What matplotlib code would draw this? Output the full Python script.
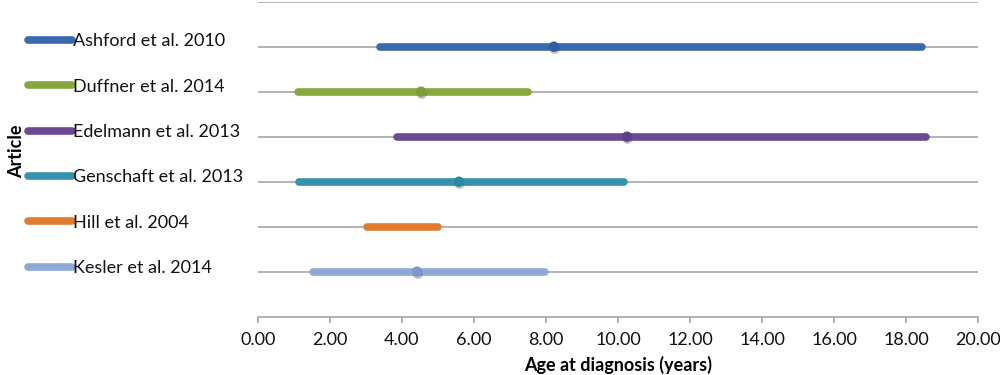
import matplotlib
matplotlib.use("Agg")
import matplotlib.pyplot as plt
import matplotlib.patheffects as pe
from matplotlib.ticker import FormatStrFormatter

plt.rcParams['font.family'] = ['Lato', 'DejaVu Sans']

articles = ["Ashford et al. 2010", "Duffner et al. 2014", "Edelmann et al. 2013",
            "Genschaft et al. 2013", "Hill et al. 2004", "Kesler et al. 2014"]
range_start = [3.39, 1.12, 3.86, 1.14, 3.03, 1.53]
range_end = [18.45, 7.50, 18.56, 10.17, 5.00, 7.97]
median_age = [8.22, 4.53, 10.25, 5.58, None, 4.42]
line_colors = ["#3a6aad", "#86a83e", "#6a4b91", "#3593ad", "#e07c30", "#8fa9d6"]
dot_colors = ["#2f5ea6", "#7aa033", "#5e3f88", "#2a88a6", "#e07c30", "#7d98cc"]
x_ticks = [0, 2, 4, 6, 8, 10, 12, 14, 16, 18, 20]

fig = plt.figure(figsize=(10, 3.75), dpi=100)
ax = fig.add_axes([0.258, 0.1555, 0.72, 0.84])

n = len(articles)
ypos = [n - i for i in range(n)]

for yv in range(1, n + 2):
    ax.axhline(yv, color="#a6a6a6", lw=1.2, zorder=1)

handles = []
for i in range(n):
    h, = ax.plot([range_start[i], range_end[i]], [ypos[i], ypos[i]],
                 color=line_colors[i], lw=5.5, solid_capstyle='round',
                 zorder=3, label=articles[i])
    handles.append(h)
    if median_age[i] is not None:
        ax.plot([median_age[i]], [ypos[i]], 'o', color=dot_colors[i],
                markersize=7.5, markeredgewidth=0, zorder=4,
                path_effects=[pe.SimplePatchShadow(offset=(0.5, -1.5),
                                                   shadow_rgbFace='#555555',
                                                   alpha=0.35),
                              pe.Normal()])

ax.set_xlim(0, 20)
ax.set_ylim(0, n + 1)
ax.set_xticks(x_ticks)
ax.xaxis.set_major_formatter(FormatStrFormatter('%.2f'))
ax.set_yticks([])
for s in ['left', 'right', 'top']:
    ax.spines[s].set_visible(False)
ax.spines['bottom'].set_color('#a6a6a6')
ax.spines['bottom'].set_linewidth(1.2)
ax.tick_params(axis='x', direction='out', length=4, width=1.2, color='#a6a6a6',
               labelsize=13, pad=7, labelcolor='#111111')
ax.set_xlabel("Age at diagnosis (years)", fontsize=13, fontweight='bold', labelpad=6)

fig.text(0.008, 0.597, "Article", rotation=90, fontsize=13, fontweight='bold',
         ha='left', va='center')

leg = fig.legend(handles=handles, loc='upper left', bbox_to_anchor=(0.028, 0.911),
                 frameon=False, fontsize=13, handlelength=2.45, handletextpad=0.05,
                 labelspacing=1.625, borderaxespad=0, borderpad=0)
for t in leg.get_texts():
    t.set_color('#111111')
for lh in leg.get_lines():
    lh.set_solid_capstyle('round')

fig.savefig("out.png", dpi=100)
